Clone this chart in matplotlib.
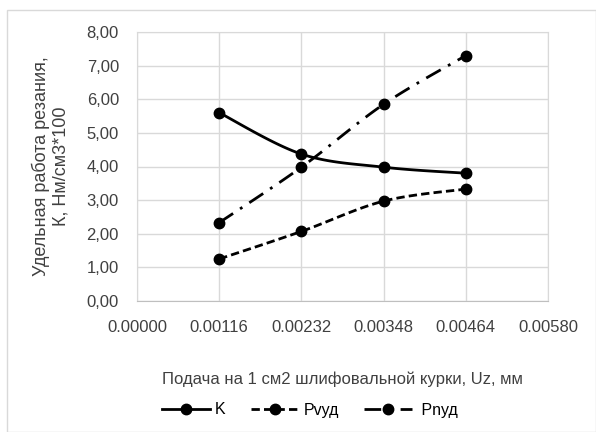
import numpy as np
import matplotlib.pyplot as plt
from matplotlib.ticker import FuncFormatter

# feed values and the three curves
uz = [0.00116, 0.00232, 0.00348, 0.00464]
k_vals = [5.60, 4.37, 3.98, 3.80]
pv_vals = [1.25, 2.07, 2.97, 3.33]
pn_vals = [2.33, 3.98, 5.85, 7.30]

x_ticks = [0.0, 0.00116, 0.00232, 0.00348, 0.00464, 0.00580]
y_ticks = [0, 1, 2, 3, 4, 5, 6, 7, 8]


def smooth(xs, ys, n=30):
    # Excel-like smoothed line (Catmull-Rom through the points)
    xs = np.asarray(xs, float)
    ys = np.asarray(ys, float)
    px = np.concatenate([[xs[0]], xs, [xs[-1]]])
    py = np.concatenate([[ys[0]], ys, [ys[-1]]])
    ox, oy = [], []
    t = np.linspace(0, 1, n)
    for i in range(1, len(px) - 2):
        p0, p1, p2, p3 = (np.array([px[j], py[j]]) for j in range(i - 1, i + 3))
        c1 = p1 + (p2 - p0) / 6
        c2 = p2 - (p3 - p1) / 6
        pts = ((1 - t) ** 3)[:, None] * p1 + (3 * (1 - t) ** 2 * t)[:, None] * c1 \
            + (3 * (1 - t) * t ** 2)[:, None] * c2 + (t ** 3)[:, None] * p2
        ox.extend(pts[:, 0])
        oy.extend(pts[:, 1])
    return ox, oy


plt.rcParams['font.family'] = ['Liberation Sans', 'DejaVu Sans']
fig = plt.figure(figsize=(5.96, 4.32), dpi=100)
ax = fig.add_axes([137 / 596, 1 - 301 / 432, 411 / 596, 269 / 432])

styles = [
    (k_vals, '-', 'K'),
    (pv_vals, (0, (3, 1.5)), 'Pvуд'),
    (pn_vals, (0, (6, 3, 1, 3)), ' Pnуд'),
]
for vals, ls, lab in styles:
    sx, sy = smooth(uz, vals)
    ax.plot(sx, sy, color='black', lw=2, linestyle=ls)
    ax.plot(uz, vals, 'o', color='black', ms=7.5)
    ax.plot([], [], color='black', lw=2, linestyle=ls, marker='o', ms=7.5, label=lab)

ax.set_xlim(0, 0.0058)
ax.set_ylim(0, 8)
ax.set_xticks(x_ticks)
ax.set_yticks(y_ticks)
ax.xaxis.set_major_formatter(FuncFormatter(lambda v, p: f'{v:.5f}'))
ax.yaxis.set_major_formatter(FuncFormatter(lambda v, p: f'{v:.2f}'.replace('.', ',')))
ax.grid(color='#d9d9d9', lw=1)
ax.set_axisbelow(True)
for s in ['top', 'right', 'left']:
    ax.spines[s].set_color('#d9d9d9')
ax.spines['bottom'].set_color('#bfbfbf')
ax.tick_params(length=0, labelsize=12, colors='#404040')
ax.tick_params(axis='y', pad=13)
ax.tick_params(axis='x', pad=14)

ax.set_xlabel('Подача на 1 см2 шлифовальной курки, Uz, мм', fontsize=12, color='#404040', labelpad=26)
ax.set_ylabel('Удельная работа резания,\nК, Нм/см3*100', fontsize=13, color='#404040', labelpad=12)

fig.legend(loc='center', bbox_to_anchor=(0.52, 1 - 410 / 432), ncol=3, frameon=False,
           fontsize=11.5, handlelength=3.0, columnspacing=1.6, handletextpad=0.3)

fig.add_artist(plt.Rectangle((7 / 596, 0.0), 1 - 7 / 596, 1 - 10 / 432, transform=fig.transFigure,
                             fill=False, edgecolor='#d9d9d9', lw=1))

fig.savefig('out.png', dpi=100)
